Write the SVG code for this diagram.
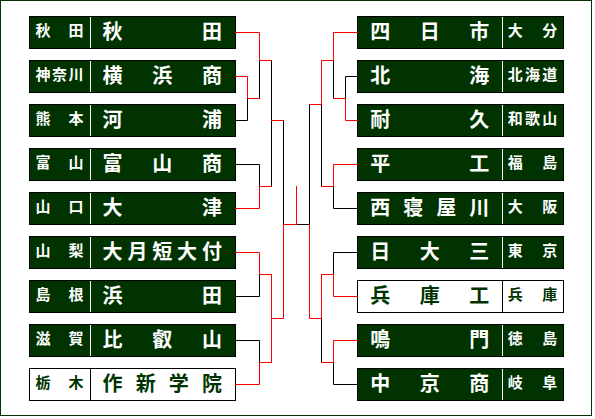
<svg xmlns="http://www.w3.org/2000/svg" width="595" height="419" viewBox="0 0 595 419">
<style>
text{font-family:"Noto Sans CJK JP","Noto Sans CJK SC",sans-serif;font-weight:bold}
.s{font-size:20px}
.p{font-size:15px}
.g rect{fill:#003300;stroke:#000;stroke-width:1}
.g line{stroke:#fff;stroke-width:1}
.g text{fill:#fff}
.w rect{fill:#fff;stroke:#000;stroke-width:1}
.w line{stroke:#000;stroke-width:1}
.w text{fill:#003300}
#connectors path{fill:none;stroke-width:1;stroke-linecap:square;stroke-linejoin:miter}
.k{stroke:#000}
.r{stroke:#f00}
</style>
<rect x="0" y="0" width="595" height="419" fill="#fff"/>
<rect x="0.5" y="0.5" width="591" height="415" fill="none" stroke="#003300" stroke-width="1"/>

<g id="L1" class="g"><rect x="29.5" y="16.5" width="206" height="32"/><line x1="90.5" y1="17" x2="90.5" y2="48"/><text class="p" x="35.4 68.4" y="36">秋田</text><text class="s" x="102.5 202" y="38.5">秋田</text></g>
<g id="L2" class="g"><rect x="29.5" y="60.5" width="206" height="32"/><line x1="90.5" y1="61" x2="90.5" y2="92"/><text class="p" x="35.4 51.9 68.4" y="80">神奈川</text><text class="s" x="102.5 152.3 202" y="82.5">横浜商</text></g>
<g id="L3" class="g"><rect x="29.5" y="104.5" width="206" height="32"/><line x1="90.5" y1="105" x2="90.5" y2="136"/><text class="p" x="35.4 68.4" y="124">熊本</text><text class="s" x="102.5 202" y="126.5">河浦</text></g>
<g id="L4" class="g"><rect x="29.5" y="148.5" width="206" height="32"/><line x1="90.5" y1="149" x2="90.5" y2="180"/><text class="p" x="35.4 68.4" y="168">富山</text><text class="s" x="102.5 152.3 202" y="170.5">富山商</text></g>
<g id="L5" class="g"><rect x="29.5" y="192.5" width="206" height="32"/><line x1="90.5" y1="193" x2="90.5" y2="224"/><text class="p" x="35.4 68.4" y="212">山口</text><text class="s" x="102.5 202" y="214.5">大津</text></g>
<g id="L6" class="g"><rect x="29.5" y="236.5" width="206" height="32"/><line x1="90.5" y1="237" x2="90.5" y2="268"/><text class="p" x="35.4 68.4" y="256">山梨</text><text class="s" x="102.5 127.4 152.3 177.1 202" y="258.5">大月短大付</text></g>
<g id="L7" class="g"><rect x="29.5" y="280.5" width="206" height="32"/><line x1="90.5" y1="281" x2="90.5" y2="312"/><text class="p" x="35.4 68.4" y="300">島根</text><text class="s" x="102.5 202" y="302.5">浜田</text></g>
<g id="L8" class="g"><rect x="29.5" y="324.5" width="206" height="32"/><line x1="90.5" y1="325" x2="90.5" y2="356"/><text class="p" x="35.4 68.4" y="344">滋賀</text><text class="s" x="102.5 152.3 202" y="346.5">比叡山</text></g>
<g id="L9" class="w"><rect x="29.5" y="368.5" width="206" height="32"/><line x1="90.5" y1="369" x2="90.5" y2="400"/><text class="p" x="35.4 68.4" y="388">栃木</text><text class="s" x="102.5 135.7 168.8 202" y="390.5">作新学院</text></g>

<g id="R1" class="g"><rect x="357.5" y="16.5" width="206" height="32"/><line x1="502.5" y1="17" x2="502.5" y2="48"/><text class="s" x="370.2 419.7 469.2" y="38.5">四日市</text><text class="p" x="507.7 542.3" y="36">大分</text></g>
<g id="R2" class="g"><rect x="357.5" y="60.5" width="206" height="32"/><line x1="502.5" y1="61" x2="502.5" y2="92"/><text class="s" x="370.2 469.2" y="82.5">北海</text><text class="p" x="507.7 525 542.3" y="80">北海道</text></g>
<g id="R3" class="g"><rect x="357.5" y="104.5" width="206" height="32"/><line x1="502.5" y1="105" x2="502.5" y2="136"/><text class="s" x="370.2 469.2" y="126.5">耐久</text><text class="p" x="507.7 525 542.3" y="124">和歌山</text></g>
<g id="R4" class="g"><rect x="357.5" y="148.5" width="206" height="32"/><line x1="502.5" y1="149" x2="502.5" y2="180"/><text class="s" x="370.2 469.2" y="170.5">平工</text><text class="p" x="507.7 542.3" y="168">福島</text></g>
<g id="R5" class="g"><rect x="357.5" y="192.5" width="206" height="32"/><line x1="502.5" y1="193" x2="502.5" y2="224"/><text class="s" x="370.2 403.2 436.2 469.2" y="214.5">西寝屋川</text><text class="p" x="507.7 542.3" y="212">大阪</text></g>
<g id="R6" class="g"><rect x="357.5" y="236.5" width="206" height="32"/><line x1="502.5" y1="237" x2="502.5" y2="268"/><text class="s" x="370.2 419.7 469.2" y="258.5">日大三</text><text class="p" x="507.7 542.3" y="256">東京</text></g>
<g id="R7" class="w"><rect x="357.5" y="280.5" width="206" height="32"/><line x1="502.5" y1="281" x2="502.5" y2="312"/><text class="s" x="370.2 419.7 469.2" y="302.5">兵庫工</text><text class="p" x="507.7 542.3" y="300">兵庫</text></g>
<g id="R8" class="g"><rect x="357.5" y="324.5" width="206" height="32"/><line x1="502.5" y1="325" x2="502.5" y2="356"/><text class="s" x="370.2 469.2" y="346.5">鳴門</text><text class="p" x="507.7 542.3" y="344">徳島</text></g>
<g id="R9" class="g"><rect x="357.5" y="368.5" width="206" height="32"/><line x1="502.5" y1="369" x2="502.5" y2="400"/><text class="s" x="370.2 419.7 469.2" y="390.5">中京商</text><text class="p" x="507.7 542.3" y="388">岐阜</text></g>

<g id="connectors">
<path class="k" d="M259.5 60.5V98.5"/>
<path class="k" d="M235.5 120.5H247.5V98.5"/>
<path class="k" d="M271.5 60.5V186.5"/>
<path class="k" d="M283.5 120.5V224.5"/>
<path class="k" d="M235.5 164.5H259.5V186.5"/>
<path class="k" d="M235.5 296.5H259.5V274.5"/>
<path class="k" d="M235.5 340.5H259.5V362.5"/>
<path class="k" d="M296.5 224.5H309.5"/>
<path class="k" d="M309.5 104.5V224.5"/>
<path class="k" d="M333.5 60.5V98.5"/>
<path class="k" d="M357.5 76.5H345.5V98.5"/>
<path class="k" d="M321.5 104.5V186.5"/>
<path class="k" d="M333.5 186.5V208.5H357.5"/>
<path class="k" d="M357.5 252.5H333.5V274.5"/>
<path class="k" d="M321.5 318.5V362.5"/>
<path class="k" d="M333.5 362.5V384.5H357.5"/>
<path class="r" d="M235.5 32.5H259.5V60.5H271.5"/>
<path class="r" d="M235.5 76.5H247.5V98.5H259.5"/>
<path class="r" d="M271.5 120.5H283.5"/>
<path class="r" d="M235.5 208.5H259.5V186.5H271.5"/>
<path class="r" d="M235.5 252.5H259.5V274.5H271.5"/>
<path class="r" d="M271.5 274.5V362.5"/>
<path class="r" d="M271.5 318.5H283.5V224.5H296.5"/>
<path class="r" d="M235.5 384.5H259.5V362.5H271.5"/>
<path class="r" d="M296.5 186.5V224.5"/>
<path class="r" d="M309.5 224.5V318.5H321.5"/>
<path class="r" d="M357.5 32.5H333.5V60.5H321.5"/>
<path class="r" d="M333.5 98.5H345.5V120.5H357.5"/>
<path class="r" d="M321.5 60.5V104.5H309.5"/>
<path class="r" d="M357.5 164.5H333.5V186.5H321.5"/>
<path class="r" d="M321.5 274.5H333.5V296.5H357.5"/>
<path class="r" d="M321.5 274.5V318.5"/>
<path class="r" d="M321.5 362.5H333.5V340.5H357.5"/>
</g>
</svg>
